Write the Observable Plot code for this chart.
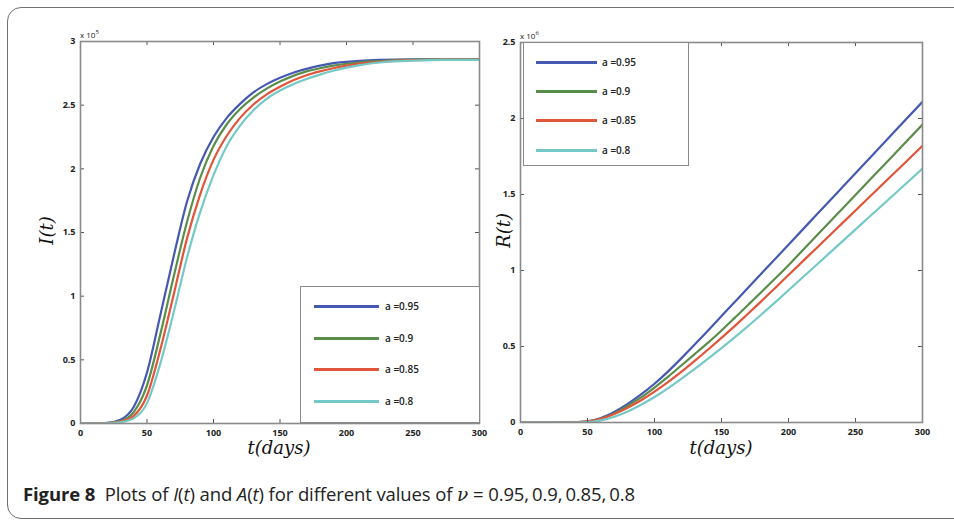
<!DOCTYPE html>
<html>
<head>
<meta charset="utf-8">
<script src="https://cdn.jsdelivr.net/npm/d3@7"></script>
<script src="https://cdn.jsdelivr.net/npm/@observablehq/plot@0.6"></script>
<style>
  html, body { margin: 0; padding: 0; background: #fff; }
  #root { position: relative; width: 954px; height: 525px; overflow: hidden; background: #fff; font-family: "Open Sans", sans-serif; }
  #root svg { overflow: visible; }
  .outer { position: absolute; left: 7px; top: 7px; width: 990px; height: 512px; border: 1.6px solid #6f6f6f; border-radius: 14px; box-sizing: border-box; }
  .panel { position: absolute; top: 0; }
  .ylab, .xlab { position: absolute; font-family: "DejaVu Serif", serif; font-style: italic; font-size: 18px; color: #111; white-space: nowrap; }
  .mult { position: absolute; font-family: "Open Sans", sans-serif; font-size: 8px; color: #222; }
  .mult sup { font-size: 6px; }
  .legend { position: absolute; border: 1.6px solid #8a8a8a; background: #fff; box-sizing: border-box; }
  .legend .sw { position: absolute; height: 3px; }
  .legend .lt { position: absolute; font-family: "Open Sans", sans-serif; font-weight: 600; font-size: 10px; color: #222; white-space: nowrap; line-height: 14px; }
  .caption { position: absolute; left: 23px; top: 481px; font-family: "Open Sans", sans-serif; font-size: 18.5px; color: #222; white-space: nowrap; letter-spacing: -0.1px; }
  .caption b { font-weight: 700; }
</style>
</head>
<body>
<div id="root">
  <div class="outer"></div>
</div>
<script>
// ---------- data ----------
const seriesNames = ["a =0.95", "a =0.9", "a =0.85", "a =0.8"];
const seriesColors = ["#4559b2", "#5a8d4b", "#e1553a", "#74c9c6"];
const xTicks = [0, 50, 100, 150, 200, 250, 300];
const yTicksI = [0, 0.5, 1, 1.5, 2, 2.5, 3];
const yTicksR = [0, 0.5, 1, 1.5, 2, 2.5];

// I(t), units of 1e5
const tI = [0, 10, 20, 30, 40, 50, 60, 70, 80, 90, 100, 110, 120, 130, 140, 150, 160, 170, 180, 190, 200, 210, 225, 250, 275, 300];
const I095 = [0, 0.001, 0.005, 0.03, 0.13, 0.40, 0.85, 1.31, 1.74, 2.04, 2.25, 2.40, 2.51, 2.60, 2.665, 2.715, 2.755, 2.785, 2.81, 2.83, 2.84, 2.848, 2.855, 2.86, 2.86, 2.86];
const I090 = [0, 0.001, 0.004, 0.02, 0.09, 0.30, 0.70, 1.15, 1.58, 1.93, 2.18, 2.35, 2.47, 2.56, 2.63, 2.685, 2.73, 2.765, 2.79, 2.81, 2.825, 2.837, 2.847, 2.857, 2.86, 2.86];
const I085 = [0, 0, 0.003, 0.015, 0.06, 0.22, 0.58, 1.01, 1.45, 1.80, 2.07, 2.26, 2.40, 2.505, 2.585, 2.645, 2.695, 2.735, 2.765, 2.79, 2.81, 2.826, 2.84, 2.853, 2.858, 2.858];
const I080 = [0, 0, 0.002, 0.01, 0.04, 0.16, 0.47, 0.87, 1.30, 1.66, 1.95, 2.18, 2.34, 2.46, 2.55, 2.615, 2.665, 2.705, 2.74, 2.77, 2.795, 2.815, 2.835, 2.85, 2.855, 2.855];

// R(t), units of 1e6
const tR = [0, 20, 40, 50, 60, 70, 80, 90, 100, 110, 120, 130, 140, 150, 160, 170, 180, 190, 200, 220, 240, 260, 280, 300];
const R095 = [0, 0, 0.002, 0.008, 0.03, 0.07, 0.123, 0.185, 0.255, 0.335, 0.422, 0.513, 0.606, 0.70, 0.794, 0.888, 0.982, 1.076, 1.17, 1.358, 1.546, 1.734, 1.922, 2.11];
const R090 = [0, 0, 0.001, 0.006, 0.025, 0.06, 0.11, 0.165, 0.23, 0.30, 0.375, 0.45, 0.525, 0.605, 0.69, 0.775, 0.86, 0.947, 1.035, 1.22, 1.405, 1.59, 1.775, 1.96];
const R085 = [0, 0, 0.001, 0.007, 0.025, 0.056, 0.097, 0.146, 0.203, 0.266, 0.333, 0.405, 0.48, 0.557, 0.636, 0.717, 0.80, 0.885, 0.97, 1.14, 1.31, 1.48, 1.65, 1.82];
const R080 = [0, 0, 0, 0.003, 0.014, 0.038, 0.073, 0.117, 0.168, 0.225, 0.287, 0.352, 0.42, 0.49, 0.562, 0.636, 0.712, 0.79, 0.87, 1.03, 1.19, 1.35, 1.51, 1.67];

function table(ts, arrs) {
  const rows = [];
  arrs.forEach((arr, k) => arr.forEach((v, i) => rows.push({t: ts[i], v, s: seriesNames[k]})));
  return rows;
}
const dataI = table(tI, [I095, I090, I085, I080]);
const dataR = table(tR, [R095, R090, R085, R080]);

function panel({data, W, H, mL, mR, mT, mB, yDomain, yTicks, curve}) {
  const pw = W - mL - mR, ph = H - mT - mB;
  const tickStyle = {stroke: "#555", strokeWidth: 1};
  return Plot.plot({
    width: W, height: H,
    marginLeft: mL, marginRight: mR, marginTop: mT, marginBottom: mB,
    x: {domain: [0, 300]},
    y: {domain: yDomain},
    color: {domain: seriesNames, range: seriesColors},
    style: {background: "transparent", fontFamily: "Open Sans, sans-serif", overflow: "visible"},
    marks: [
      Plot.line(data, {x: "t", y: "v", z: "s", stroke: "s", strokeWidth: 2.2, curve, clip: true}),
      Plot.ruleX(xTicks, {x: d => d, insetTop: ph - 4, ...tickStyle}),
      Plot.ruleX(xTicks, {x: d => d, insetBottom: ph - 4, ...tickStyle}),
      Plot.ruleY(yTicks, {y: d => d, insetRight: pw - 4, ...tickStyle}),
      Plot.ruleY(yTicks, {y: d => d, insetLeft: pw - 4, ...tickStyle}),
      Plot.frame({stroke: "#8a8a8a", strokeWidth: 1.6}),
      Plot.axisX({ticks: xTicks, tickSize: 0, tickPadding: 6, fontWeight: "bold", fontSize: 9, fill: "#222", label: null}),
      Plot.axisY({ticks: yTicks, tickSize: 0, tickPadding: 5, fontWeight: "bold", fontSize: 9, fill: "#222", label: null, tickFormat: d => String(d)})
    ]
  });
}

const root = document.getElementById("root");
function place(el, left) {
  const d = document.createElement("div");
  d.className = "panel";
  d.style.left = left + "px";
  d.appendChild(el);
  root.appendChild(d);
}
place(panel({data: dataI, W: 480, H: 470, mL: 80, mR: 1, mT: 41, mB: 47, yDomain: [0, 3], yTicks: yTicksI, curve: "monotone-x"}), 0);
place(panel({data: dataR, W: 474, H: 470, mL: 40, mR: 32, mT: 42, mB: 48, yDomain: [0, 2.5], yTicks: yTicksR, curve: "natural"}), 480);

function addHTML(html) {
  const t = document.createElement("template");
  t.innerHTML = html.trim();
  const el = t.content.firstChild;
  root.appendChild(el);
  return el;
}
// multipliers
addHTML('<div class="mult" style="left:80px;top:28px;">x 10<sup>5</sup></div>');
addHTML('<div class="mult" style="left:520px;top:29px;">x 10<sup>6</sup></div>');
// axis labels
addHTML('<div class="ylab" style="left:22px;top:220px;transform:rotate(-90deg);transform-origin:center;width:48px;text-align:center;">I(t)</div>');
addHTML('<div class="ylab" style="left:479px;top:220px;transform:rotate(-90deg);transform-origin:center;width:48px;text-align:center;">R(t)</div>');
addHTML('<div class="xlab" style="left:229px;top:437px;width:100px;text-align:center;">t(days)</div>');
addHTML('<div class="xlab" style="left:671px;top:437px;width:100px;text-align:center;">t(days)</div>');

function legend(left, top, w, h, lineX, lineW, textX, rowYs) {
  let html = `<div class="legend" style="left:${left}px;top:${top}px;width:${w}px;height:${h}px;">`;
  seriesNames.forEach((n, i) => {
    html += `<div class="sw" style="left:${lineX}px;top:${rowYs[i] - 1.5}px;width:${lineW}px;background:${seriesColors[i]};"></div>`;
    html += `<div class="lt" style="left:${textX}px;top:${rowYs[i] - 7}px;">${n}</div>`;
  });
  html += `</div>`;
  addHTML(html);
}
legend(300, 286, 180, 137, 13, 65, 84, [19, 51, 82, 114]);
legend(523, 42, 166, 124, 12, 61, 78, [19, 48, 77, 107]);

addHTML('<div class="caption"><b>Figure 8</b>&nbsp; Plots of <i>I</i>(<i>t</i>) and <i>A</i>(<i>t</i>) for different values of <span style="font-family:\'DejaVu Serif\',serif;font-style:italic;">ν</span> = 0.95,&thinsp;0.9,&thinsp;0.85,&thinsp;0.8</div>');
</script>
</body>
</html>
